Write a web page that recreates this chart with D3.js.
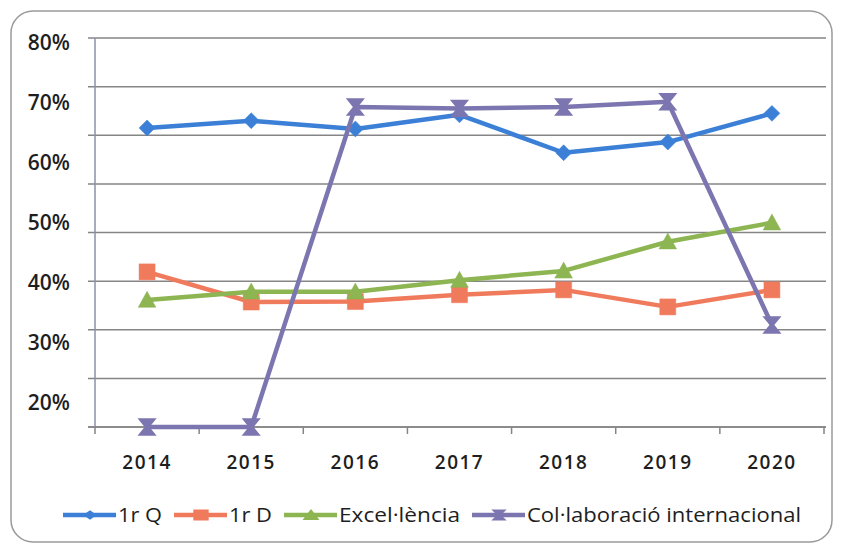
<!DOCTYPE html>
<html>
<head>
<meta charset="utf-8">
<script src="https://cdn.jsdelivr.net/npm/d3@7"></script>
<style>
  body { margin: 0; background: #fff; }
  text { font-family: "Open Sans", "Liberation Sans", Arial, sans-serif; fill: #1e1e1e; }
</style>
</head>
<body>
<svg class="svg-canvas" width="843" height="546"></svg>
<script>
var years = ["2014", "2015", "2016", "2017", "2018", "2019", "2020"];
var yTickLabels = ["80%", "70%", "60%", "50%", "40%", "30%", "20%"];
var seriesNames = ["1r Q", "1r D", "Excel·lència", "Col·laboració internacional"];
var primerQ = [0.615, 0.63, 0.613, 0.642, 0.564, 0.586, 0.645];
var primerD = [0.319, 0.257, 0.258, 0.272, 0.282, 0.247, 0.282];
var excelencia = [0.261, 0.278, 0.278, 0.302, 0.321, 0.381, 0.42];
var collab = [0, 0, 0.658, 0.655, 0.658, 0.669, 0.21];
var colors = ["#3b80d6", "#f07b5c", "#8db552", "#7c76b0"];

var svg = d3.select(".svg-canvas");
var width = parseInt(svg.attr("width"));
var height = parseInt(svg.attr("height"));

svg.append("rect")
  .attr("x", 11).attr("y", 11)
  .attr("width", width - 22).attr("height", height - 15)
  .attr("rx", 22)
  .attr("fill", "#fff")
  .attr("stroke", "#9a9a9a")
  .attr("stroke-width", 1.5);

var x = d3.scaleBand().domain(years).range([95, 824]);
var y = d3.scaleLinear().domain([0, 0.8]).range([427, 38]);
var labelY = d3.scalePoint().domain(yTickLabels).range([42, 402]);

// gridlines + left ticks
svg.append("g")
  .selectAll("line")
  .data(y.ticks(8))
  .enter().append("line")
  .attr("x1", 88).attr("x2", 826)
  .attr("y1", function(d) { return y(d); })
  .attr("y2", function(d) { return y(d); })
  .attr("stroke", "#858585")
  .attr("stroke-width", 1.5);

// y axis line
svg.append("line")
  .attr("x1", 95).attr("x2", 95)
  .attr("y1", 38).attr("y2", 427)
  .attr("stroke", "#8d90a8")
  .attr("stroke-width", 1.5);

// x axis with tick marks at band edges
var xAxis = svg.append("g").attr("transform", "translate(0,427)");
xAxis.append("line")
  .attr("x1", 88).attr("x2", 826)
  .attr("stroke", "#858585").attr("stroke-width", 1.5);
xAxis.selectAll(".edge")
  .data(years.concat(["end"]))
  .enter().append("line")
  .attr("class", "edge")
  .attr("x1", function(d, i) { return x.range()[0] + i * x.step(); })
  .attr("x2", function(d, i) { return x.range()[0] + i * x.step(); })
  .attr("y1", 0).attr("y2", 7)
  .attr("stroke", "#858585").attr("stroke-width", 1.5);
xAxis.selectAll(".lbl")
  .data(years)
  .enter().append("text")
  .attr("class", "lbl")
  .attr("x", function(d) { return x(d) + x.bandwidth() / 2; })
  .attr("y", 42)
  .attr("text-anchor", "middle")
  .style("font-size", "19px")
  .style("font-weight", "600")
  .style("letter-spacing", "1.5px")
  .text(function(d) { return d; });

// y labels
var yAxis = d3.axisLeft(labelY).tickSize(0).tickPadding(0);
var yg = svg.append("g").attr("transform", "translate(70,0)").call(yAxis);
yg.select(".domain").remove();
yg.selectAll("text")
  .style("font-size", "21px")
  .style("font-weight", "600")
  .style("font-family", "Open Sans, Liberation Sans, Arial, sans-serif")
  .attr("fill", "#1e1e1e")
  .attr("dy", "0.36em");

function cx(d, i) { return x(years[i]) + x.bandwidth() / 2; }

var line = d3.line()
  .x(function(d, i) { return cx(d, i); })
  .y(function(d) { return y(d); });

function markerPath(k, s) {
  if (k === 0) return d3.symbol().type(d3.symbolDiamond2).size(s * s * 0.5)();
  if (k === 1) return "M" + (-s / 2) + "," + (-s / 2) + "h" + s + "v" + s + "h" + (-s) + "Z";
  if (k === 2) return "M0," + (-s * 0.55) + "L" + (s * 0.55) + "," + (s * 0.45) + "L" + (-s * 0.55) + "," + (s * 0.45) + "Z";
  var h = s / 2;
  return "M" + (-h) + "," + (-h) + "H" + h + "L1.5,0L" + h + "," + h + "H" + (-h) + "L-1.5,0Z";
}

var allSeries = [primerQ, primerD, excelencia, collab];

allSeries.forEach(function(vals, k) {
  var g = svg.append("g");
  g.append("path")
    .datum(vals)
    .attr("d", line)
    .attr("fill", "none")
    .attr("stroke", colors[k])
    .attr("stroke-width", 4.5)
    .attr("stroke-linejoin", "round");
  g.selectAll("path.m")
    .data(vals)
    .enter().append("path")
    .attr("class", "m")
    .attr("transform", function(d, i) { return "translate(" + cx(d, i) + "," + y(d) + ")"; })
    .attr("d", markerPath(k, k === 0 ? 18 : 16))
    .attr("fill", colors[k])
    .attr("stroke", colors[k])
    .attr("stroke-width", k === 3 ? 1.5 : 0.5);
});

// legend: widths follow the stretched text of the reference
var legendTextWidth = [44, 43, 121, 274];
var lx = 63;
var legend = svg.append("g").attr("transform", "translate(0,515)");
seriesNames.forEach(function(name, k) {
  var item = legend.append("g").attr("transform", "translate(" + lx + ",0)");
  item.append("line")
    .attr("x1", 0).attr("x2", 53)
    .attr("stroke", colors[k]).attr("stroke-width", 4.5);
  item.append("path")
    .attr("transform", "translate(27,0) scale(1.4,1)")
    .attr("d", markerPath(k, 11))
    .attr("fill", colors[k]);
  item.append("text")
    .attr("x", 55)
    .attr("dy", "0.36em")
    .attr("textLength", legendTextWidth[k])
    .attr("lengthAdjust", "spacingAndGlyphs")
    .style("font-size", "20px")
    .text(name);
  lx += 55 + legendTextWidth[k] + 12;
});
</script>
</body>
</html>
